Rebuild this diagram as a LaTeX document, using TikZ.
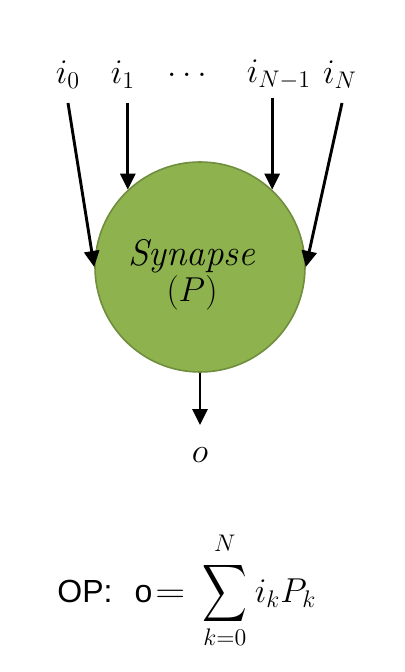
\documentclass[tikz,border=0pt]{standalone}
\usepackage{fontspec}
\usepackage{graphicx}
\setsansfont{Liberation Sans}
\usetikzlibrary{arrows.meta}
\definecolor{synfill}{RGB}{142,178,78}
\definecolor{synedge}{RGB}{112,142,62}
\tikzset{
  sig/.style={line width=1.45pt,-{Triangle[length=8pt,width=7.5pt]}},
  lbl/.style={font=\fontsize{17.5}{20}\selectfont},
}
\begin{document}
\begin{tikzpicture}[x=0.5pt,y=-0.5pt]
\useasboundingbox (0,0) rectangle (405,672);
\node[circle,minimum size=105pt,inner sep=0pt,fill=synfill,draw=synedge,line width=0.8pt] (syn) at (200,267) {};
\node[align=center,font=\fontsize{18.5}{22}\selectfont] (syntext) at (192,275)
      {\textit{Synapse}\\[-4pt]$(P)$};
\node[lbl] (i0) at (68,75) {$i_0$};
\node[lbl] (i1) at (123,75) {$i_1$};
\node[lbl] (dots) at (187,75) {$\dots$};
\node[lbl] (iN1) at (279,75) {$i_{N-1}$};
\node[lbl] (iN) at (340,75) {$i_N$};
\coordinate (s0) at (68,103);
\coordinate (s1) at (125,103);
\coordinate (sN1) at (273,98);
\coordinate (sN) at (342,103);
\draw[sig] (s0) -- (syn.180);
\draw[sig] (syn.133 |- s1) -- (syn.133);
\draw[sig] (syn.47 |- sN1) -- (syn.47);
\draw[sig] (sN) -- (syn.0);
\coordinate (oend) at (200,425);
\draw[sig] (syn.south) -- (oend);
\node[lbl] (o) at (200,455) {$o$};
\node[anchor=base west,inner sep=0pt,font=\fontsize{16}{20}\selectfont] (op) at (57,602)
  {\sffamily OP:\hspace{11pt}o\fontsize{17.5}{20}\selectfont\hspace{1.5pt}$\mathrel{\scalebox{1.2}[1]{$=$}}\mkern4mu\mathop{\vcenter{\hbox{\scalebox{1.55}[2.0]{$\displaystyle\sum$}}}}\limits_{k=0}^{\raisebox{3pt}{$\scriptstyle N$}}\mkern1mu i_kP_k$};
\end{tikzpicture}
\end{document}
